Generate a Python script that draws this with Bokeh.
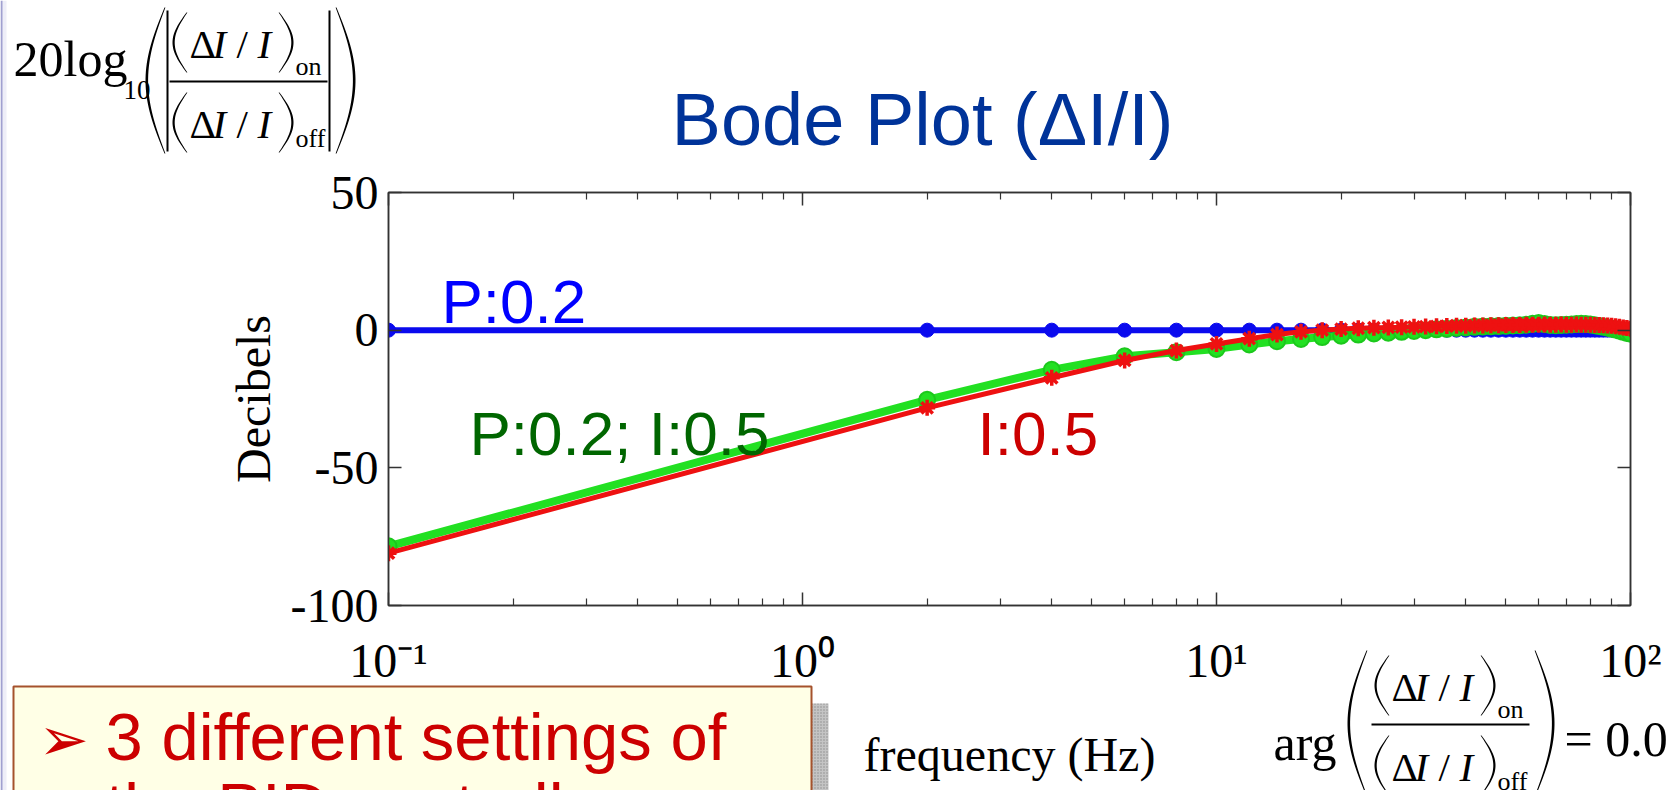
import numpy as np
from bokeh.plotting import figure
from bokeh.layouts import column
from bokeh.models import Label, LogAxis, LinearAxis, FixedTicker
from bokeh.embed import file_html
from bokeh.resources import INLINE

# ---------------- data ----------------
freq_hz = [0.1, 2, 4, 6, 8, 10, 12, 14, 16, 18, 20, 22, 24, 26, 28, 30, 32, 34, 36, 38,
           40, 42, 44, 46, 48, 50, 52, 54, 56, 58, 60, 62, 64, 66, 68, 70, 72, 74, 76, 78,
           80, 82, 84, 86, 88, 90, 92, 94, 96, 98, 100]
db_p = [0.0, 0.0, 0.0, 0.0, 0.0, 0.0, 0.0, 0.0, 0.0, 0.0, 0.0, 0.0, 0.0, 0.0, 0.0, 0.0,
        0.0, 0.0, 0.0, 0.0, 0.0, 0.0, 0.0, 0.0, 0.0, 0.0, 0.0, 0.0, 0.0, 0.0, 0.0, 0.0,
        0.0, 0.0, 0.0, 0.0, 0.0, 0.0, 0.0, 0.0, 0.0, 0.0, 0.0, 0.0, 0.0, 0.0, 0.0, 0.0,
        0.0, 0.0, 0.0]
db_pi = [-78.5, -25.3, -14.4, -9.5, -8.0, -6.8, -5.2, -4.0, -3.2, -2.5, -2.0, -1.6, -1.2,
         -0.9, -0.6, -0.3, 0.0, 0.3, 0.5, 0.8, 1.0, 1.2, 1.3, 1.4, 1.5, 1.6, 1.7, 1.8,
         2.0, 2.3, 2.6, 2.2, 1.9, 1.8, 1.9, 2.0, 2.1, 2.2, 2.3, 2.2, 2.1, 1.8, 1.5, 1.2,
         0.9, 0.6, 0.2, -0.2, -0.6, -1.0, -1.3]
db_i = [-81.0, -28.2, -17.3, -11.0, -7.4, -5.0, -3.1, -1.6, -0.6, 0.0, 0.4, 0.7, 0.9,
        1.0, 1.1, 1.2, 1.3, 1.4, 1.5, 1.6, 1.6, 1.7, 1.7, 1.8, 1.8, 1.9, 1.9, 1.9, 2.0,
        2.0, 2.0, 2.1, 2.0, 2.0, 2.1, 2.0, 2.0, 2.1, 2.0, 2.0, 2.0, 1.9, 1.9, 1.8, 1.7,
        1.6, 1.4, 1.2, 1.0, 0.8, 0.5]
x_ticks = [0.1, 1, 10, 100]
x_tick_labels = ["10\u207b\u00b9", "10\u2070", "10\u00b9", "10\u00b2"]
y_ticks = [-100, -50, 0, 50]
y_tick_labels = ["-100", "-50", "0", "50"]

# ---------------- layout constants ----------------
W, H = 1670, 790
FL, FR, FT, FB = 388, 1630, 192, 605
BLUE, GREEN, RED = "#0a0aee", "#22e022", "#ee1111"
SERIF = "Liberation Serif"
SANS = "Liberation Sans"
BASE_SHIFT = 0.40  # empirical: rendered baseline sits this many em below the label y

# ================= main chart =================
p = figure(width=W, height=H, x_axis_type="log", x_range=(0.1, 100), y_range=(-100, 50),
           output_backend="svg", toolbar_location=None,
           min_border_left=FL, min_border_right=W - FR, min_border_top=FT, min_border_bottom=H - FB)
p.frame_align = False
p.grid.visible = False
p.outline_line_color = "#333333"
p.outline_line_width = 1.5
p.background_fill_color = "white"
p.border_fill_color = "white"

minor = [d * m for d in [0.1, 1, 10] for m in range(2, 10)]
xt = FixedTicker(ticks=x_ticks, minor_ticks=minor)
yt = FixedTicker(ticks=y_ticks, minor_ticks=[])


def style_axis(ax):
    ax.axis_line_color = "#333333"
    ax.axis_line_width = 1.5
    ax.major_tick_line_color = "#333333"
    ax.minor_tick_line_color = "#333333"
    ax.major_tick_line_width = 1.5
    ax.minor_tick_line_width = 1.2
    ax.major_tick_in = 13
    ax.major_tick_out = 0
    ax.minor_tick_in = 7
    ax.minor_tick_out = 0
    ax.major_label_text_font = SERIF
    ax.major_label_text_font_size = "48px"
    ax.major_label_text_color = "black"
    ax.axis_label_text_font = SERIF
    ax.axis_label_text_font_size = "48px"
    ax.axis_label_text_font_style = "normal"
    ax.axis_label_text_color = "black"


xb = p.xaxis[0]
xb.ticker = xt
style_axis(xb)
xb.major_label_overrides = {t: l for t, l in zip(x_ticks, x_tick_labels)}
xb.major_label_standoff = 28
xb.axis_label = "frequency (Hz)"
xb.axis_label_standoff = 38

yl = p.yaxis[0]
yl.ticker = yt
style_axis(yl)
yl.major_label_overrides = {t: l for t, l in zip(y_ticks, y_tick_labels)}
yl.major_label_standoff = 10
yl.axis_label = "Decibels"
yl.axis_label_standoff = 8

xtop = LogAxis(ticker=xt)
style_axis(xtop)
xtop.major_label_overrides = {t: "" for t in x_ticks}
p.add_layout(xtop, "above")
yr = LinearAxis(ticker=yt)
style_axis(yr)
yr.major_label_overrides = {t: "" for t in y_ticks}
p.add_layout(yr, "right")

p.line(freq_hz, db_p, line_color=BLUE, line_width=6)
p.scatter(freq_hz, db_p, marker="circle", size=14, fill_color=BLUE, line_color=BLUE)
p.line(freq_hz, db_pi, line_color=GREEN, line_width=8)
p.scatter(freq_hz, db_pi, marker="circle", size=16, fill_color=GREEN, line_color="#1cc81c", line_width=2)
p.line(freq_hz, db_i, line_color=RED, line_width=5)
p.scatter(freq_hz, db_i, marker="asterisk", size=16, line_color=RED, line_width=3.5)

# ================= overlay with slide texts (page pixel coordinates) =================
d = figure(width=W, height=H, x_range=(0, W), y_range=(H, 0),
           x_axis_location=None, y_axis_location=None, min_border=0,
           output_backend="svg", toolbar_location=None,
           styles={"margin-top": f"-{H}px"})
d.frame_align = False
d.grid.visible = False
d.outline_line_color = None
d.background_fill_color = None
d.border_fill_color = None

black_xs, black_ys = [], []


def lab(x, y, text, size, color="black", font=SERIF, style="normal", align="left"):
    d.add_layout(Label(x=x, y=y - BASE_SHIFT * size, text=text,
                       text_font=font, text_font_size=f"{size}px", text_color=color,
                       text_font_style=style, text_align=align, text_baseline="alphabetic"))


def rect(l, t, r, b):
    black_xs.append([l, r, r, l])
    black_ys.append([t, t, b, b])


def paren(xl, xr, yt_, yb_, side, thick=2.6):
    t = np.linspace(0, 1, 40)
    y = yt_ + (yb_ - yt_) * t
    s = np.sin(np.pi * t)
    w = xr - xl
    if side == "left":
        outer = xr - w * s
        inner = outer + 0.9 + (thick - 0.9) * s
    else:
        outer = xl + w * s
        inner = outer - 0.9 - (thick - 0.9) * s
    black_xs.append(list(outer) + list(inner[::-1]))
    black_ys.append(list(y) + list(y[::-1]))


def fraction(dx, dy):
    for base, off, sub, subbase in [(60, 0, "on", 76), (140, 80, "off", 148)]:
        paren(172 + dx, 186 + dx, 12 + off + dy, 72 + off + dy, "left", 2.2)
        lab(189 + dx, base + dy, "\u0394", 41)
        lab(212 + dx, base + dy, "I", 41, style="italic")
        lab(236 + dx, base + dy, "/", 41)
        lab(257 + dx, base + dy, "I", 41, style="italic")
        paren(279 + dx, 293 + dx, 12 + off + dy, 72 + off + dy, "right", 2.2)
        lab(295 + dx, subbase + dy, sub, 26)
    rect(169 + dx, 80 + dy, 327 + dx, 82 + dy)


# page edge
d.quad(left=0, right=6, top=0, bottom=H, fill_color="#eeeef8", line_color=None)
d.quad(left=0, right=2, top=0, bottom=H, fill_color="#a0a0d0", line_color=None)

# text box with shadow
d.quad(left=811, right=828, top=703, bottom=H + 10, fill_color="#c4c4c4", line_color=None,
       hatch_pattern="dot", hatch_color="#8c8c8c", hatch_scale=3)
d.quad(left=13, right=811, top=686, bottom=H + 10, fill_color="#ffffe6", line_color="#a5522d", line_width=2)
lab(38, 762, "\u27a2", 60, color="#cc0000", font="DejaVu Sans")
lab(105, 763, "3 different settings of", 67, color="#cc0000", font=SANS)
lab(105, 833, "the PID controller", 67, color="#cc0000", font=SANS)

# top-left formula
lab(13, 78, "20log", 50)
lab(123, 100, "10", 27)
paren(145, 164, 7, 153, "left")
rect(166, 10, 168, 151)
fraction(0, 0)
rect(328, 10, 330, 151)
paren(336, 355, 7, 153, "right")

# bottom-right formula
YB = 724
DY = YB - 81
lab(1273, 762, "arg", 50)
paren(1347, 1366, YB - 74, YB + 72, "left")
fraction(1202, DY)
paren(1535, 1554, YB - 74, YB + 72, "right")
lab(1564, 758, "= 0.0", 50)

d.patches(xs=black_xs, ys=black_ys, fill_color="black", line_color=None)

# title
lab(922, 149, "Bode Plot (\u0394I/I)", 74, color="#003399", font=SANS, align="center")

# series annotations
lab(441, 326, "P:0.2", 62, color="#0000ff", font=SANS)
lab(469, 458, "P:0.2; I:0.5", 62, color="#006600", font=SANS)
lab(977, 458, "I:0.5", 62, color="#cc0000", font=SANS)

open("out.html", "w").write(file_html(column(p, d), INLINE))
